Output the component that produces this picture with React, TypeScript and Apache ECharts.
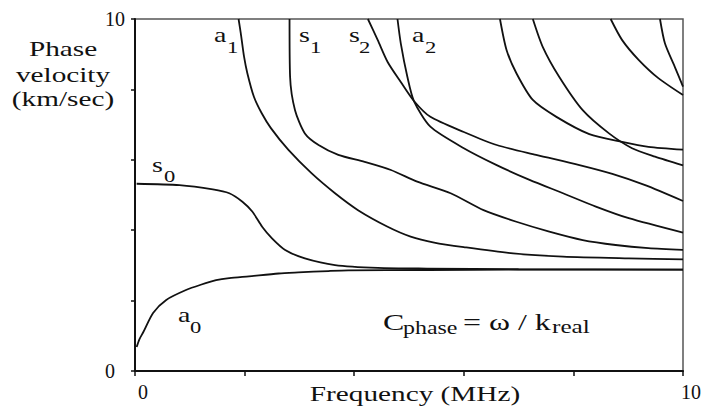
import { useEffect, useRef } from 'react';
import * as echarts from 'echarts';

// Lamb wave dispersion curves: phase velocity (km/sec) vs frequency (MHz)
const a0 = [[0.03, 0.68], [0.08, 0.9], [0.15, 1.1], [0.33, 1.65], [0.57, 2.02], [0.93, 2.3], [1.2, 2.45], [1.48, 2.58], [1.72, 2.64], [2.08, 2.69], [2.62, 2.77], [2.98, 2.8], [3.53, 2.84], [3.89, 2.86], [5.33, 2.87], [7.0, 2.88], [10, 2.88]];
const s0 = [[0.03, 5.32], [0.81, 5.28], [1.42, 5.16], [1.72, 5.05], [1.96, 4.81], [2.14, 4.53], [2.32, 4.1], [2.5, 3.77], [2.74, 3.44], [3.1, 3.2], [3.65, 3.01], [4.43, 2.93], [5.33, 2.91], [7.0, 2.89], [10, 2.88]];
const a1 = [[1.89, 10], [1.93, 9.6], [1.99, 8.93], [2.05, 8.46], [2.17, 7.79], [2.31, 7.33], [2.48, 6.9], [2.8, 6.28], [3.22, 5.62], [3.65, 5.05], [4.07, 4.57], [4.61, 4.1], [5.03, 3.82], [5.46, 3.65], [6.0, 3.52], [6.9, 3.34], [7.81, 3.25], [9.01, 3.2], [10, 3.17]];
const s1 = [[2.82, 10], [2.83, 8.36], [2.92, 7.41], [3.1, 6.75], [3.35, 6.42], [3.71, 6.14], [4.19, 5.94], [4.67, 5.71], [5.15, 5.38], [5.76, 5.05], [6.36, 4.57], [6.96, 4.24], [7.56, 3.96], [8.17, 3.72], [8.77, 3.58], [9.37, 3.49], [10, 3.44]];
const s2 = [[4.25, 10], [4.43, 9.4], [4.61, 8.78], [4.85, 8.21], [5.09, 7.67], [5.39, 7.22], [6.0, 6.79], [6.6, 6.42], [7.32, 6.14], [8.11, 5.85], [8.71, 5.6], [9.31, 5.28], [10, 4.83]];
const a2 = [[4.79, 10], [4.85, 9.31], [4.97, 8.36], [5.09, 7.67], [5.39, 6.94], [6.0, 6.33], [6.6, 5.85], [7.2, 5.43], [7.81, 5.05], [8.41, 4.67], [9.01, 4.34], [10, 3.93]];
const s3 = [[6.66, 10], [6.78, 9.12], [6.96, 8.46], [7.26, 7.7], [7.69, 7.22], [8.29, 6.73], [8.89, 6.51], [9.37, 6.37], [10, 6.29]];
const a3 = [[7.26, 10], [7.44, 9.21], [7.74, 8.36], [8.17, 7.41], [8.65, 6.75], [9.07, 6.33], [9.49, 6.09], [10, 5.84]];
const s4 = [[8.68, 10], [8.89, 9.4], [9.19, 8.84], [9.55, 8.32], [10, 7.84]];
const a4 = [[9.58, 10], [9.67, 9.31], [9.85, 8.64], [10, 8.08]];

const curves = [a0, s0, a1, s1, s2, a2, s3, a3, s4, a4];

const xTickLabels = ['0', '10'];
const yTickLabels = ['0', '10'];

const SERIF = 'Liberation Serif, serif';
const STRETCH = 1.33;

type Txt = { text: string; x: number; y: number; size: number; align?: string };

// mode labels with subscripts, axis titles and the phase velocity relation
const texts: Txt[] = [
  { text: 'Phase', x: 63, y: 49, size: 22, align: 'center' },
  { text: 'velocity', x: 63, y: 75, size: 22, align: 'center' },
  { text: '(km/sec)', x: 63, y: 99, size: 22, align: 'center' },
  { text: 'Frequency (MHz)', x: 415, y: 394, size: 22, align: 'center' },
  { text: 's', x: 152, y: 165, size: 21 },
  { text: '0', x: 164, y: 176, size: 17 },
  { text: 'a', x: 214, y: 35, size: 21 },
  { text: '1', x: 227, y: 47.5, size: 17 },
  { text: 's', x: 299, y: 35, size: 21 },
  { text: '1', x: 310, y: 47.5, size: 17 },
  { text: 's', x: 349, y: 35, size: 21 },
  { text: '2', x: 359, y: 47.5, size: 17 },
  { text: 'a', x: 412, y: 35, size: 21 },
  { text: '2', x: 425, y: 47.5, size: 17 },
  { text: 'a', x: 178, y: 314.5, size: 21 },
  { text: '0', x: 190, y: 327.5, size: 17 },
  { text: 'C', x: 383, y: 321.5, size: 24 },
  { text: 'phase', x: 403, y: 328, size: 18 },
  { text: '= ω / k', x: 463, y: 321.5, size: 24 },
  { text: 'real', x: 552, y: 327, size: 19 },
];

export default function App() {
  const ref = useRef<HTMLDivElement>(null);

  useEffect(() => {
    if (!ref.current) return;
    const chart = echarts.init(ref.current, undefined, { renderer: 'svg' });
    const axisColor = '#111';
    chart.setOption({
      animation: false,
      backgroundColor: '#fff',
      grid: {
        left: 135,
        right: 16,
        top: 19,
        bottom: 37,
        show: true,
        borderColor: '#555',
        borderWidth: 1.5,
        backgroundColor: 'transparent',
      },
      xAxis: {
        type: 'value',
        min: 0,
        max: 10,
        interval: 2,
        splitLine: { show: false },
        axisLine: { show: true, onZero: false, lineStyle: { color: axisColor, width: 2 } },
        axisTick: { show: true, length: 5, lineStyle: { color: axisColor, width: 1.5 } },
        axisLabel: {
          margin: 11,
          color: '#111',
          fontFamily: SERIF,
          fontSize: 20,
          padding: [0, 0, 0, 16],
          formatter: (v: number) => (xTickLabels.includes(String(v)) ? String(v) : ''),
        },
      },
      yAxis: {
        type: 'value',
        min: 0,
        max: 10,
        interval: 2,
        splitLine: { show: false },
        axisLine: { show: true, onZero: false, lineStyle: { color: axisColor, width: 2 } },
        axisTick: { show: true, length: 4, lineStyle: { color: axisColor, width: 1.5 } },
        axisLabel: {
          margin: 10,
          color: '#111',
          fontFamily: SERIF,
          fontSize: 20,
          formatter: (v: number) => {
            const s = String(v);
            if (!yTickLabels.includes(s)) return '';
            return v === 0 ? '{z|' + s + '}' : '{t|' + s + '}';
          },
          rich: {
            t: { fontFamily: SERIF, fontSize: 20, color: '#111' },
            z: { fontFamily: SERIF, fontSize: 20, color: '#111', padding: [0, 10, 0, 0] },
          },
        },
      },
      series: curves.map((c) => ({
        type: 'line',
        data: c,
        showSymbol: false,
        silent: true,
        smooth: 0.25,
        lineStyle: { color: '#111', width: 1.8 },
      })),
      graphic: texts.map((t) => ({
        type: 'text',
        x: t.x,
        y: t.y,
        scaleX: STRETCH,
        silent: true,
        style: {
          text: t.text,
          font: `${t.size}px ${SERIF}`,
          fill: '#111',
          align: t.align || 'left',
          verticalAlign: 'middle',
        },
      })),
    });
    return () => chart.dispose();
  }, []);

  return (
    <div
      ref={ref}
      style={{ position: 'fixed', left: 0, top: 0, width: 704, height: 408, background: '#fff' }}
    />
  );
}
